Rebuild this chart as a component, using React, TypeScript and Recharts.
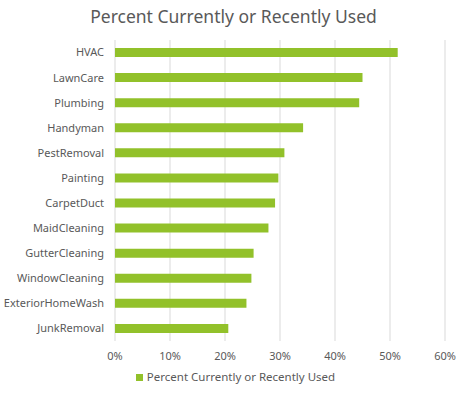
import React from 'react';
import { BarChart, Bar, XAxis, YAxis, CartesianGrid, Legend } from 'recharts';

const categories = [
  'HVAC', 'LawnCare', 'Plumbing', 'Handyman', 'PestRemoval', 'Painting',
  'CarpetDuct', 'MaidCleaning', 'GutterCleaning', 'WindowCleaning',
  'ExteriorHomeWash', 'JunkRemoval',
];
const percentUsed = [51.4, 45.0, 44.4, 34.2, 30.8, 29.7, 29.1, 27.9, 25.2, 24.8, 23.9, 20.6];
const xTicks = [0, 10, 20, 30, 40, 50, 60];
const seriesName = 'Percent Currently or Recently Used';
const title = 'Percent Currently or Recently Used';

const data = categories.map((name, i) => ({ name, value: percentUsed[i] }));

const FONT = '"Noto Sans", "DejaVu Sans", sans-serif';
const TEXT = '#595959';
const GREEN = '#92C12A';

export default function App() {
  return (
    <div style={{ position: 'absolute', left: 0, top: 0, width: 467, height: 394, background: '#fff', fontFamily: FONT }}>
      <div style={{ position: 'absolute', left: 0, top: 4, width: 467, textAlign: 'center', fontSize: 17.5, color: TEXT, fontFamily: FONT }}>
        {title}
      </div>
      <BarChart
        width={467}
        height={394}
        data={data}
        layout="vertical"
        margin={{ top: 40, right: 22, bottom: 18, left: 0 }}
        barCategoryGap={8}
      >
        <CartesianGrid horizontal={false} stroke="#d9d9d9" strokeWidth={1} />
        <XAxis
          type="number"
          domain={[0, 60]}
          ticks={xTicks}
          tickFormatter={(v) => `${v}%`}
          axisLine={false}
          tickLine={false}
          tick={{ fill: TEXT, fontSize: 11, fontFamily: FONT }}
          height={20}
          tickMargin={5}
          interval={0}
        />
        <YAxis
          type="category"
          dataKey="name"
          axisLine={false}
          tickLine={false}
          width={115}
          tickMargin={5}
          interval={0}
          tick={{ fill: TEXT, fontSize: 11, fontFamily: FONT }}
        />
        <Legend
          verticalAlign="bottom"
          iconType="square"
          iconSize={7}
          wrapperStyle={{ fontSize: 11.5, fontFamily: FONT, color: TEXT, bottom: 10, paddingLeft: 36, boxSizing: 'border-box' }}
          formatter={(v) => <span style={{ color: TEXT }}>{v}</span>}
        />
        <Bar dataKey="value" name={seriesName} fill={GREEN} barSize={9} isAnimationActive={false} />
      </BarChart>
    </div>
  );
}
